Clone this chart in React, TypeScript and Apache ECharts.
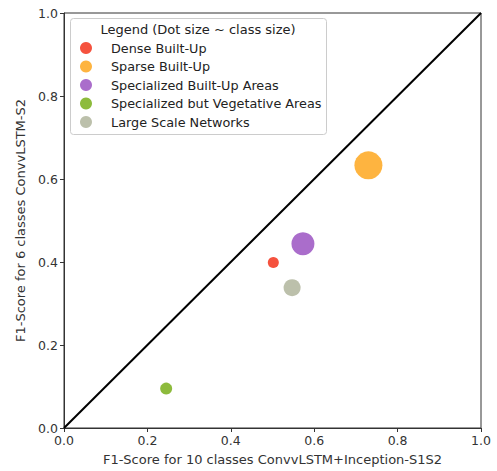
import React, { useEffect, useRef } from "react";
import * as echarts from "echarts";

const categories = [
  "Dense Built-Up",
  "Sparse Built-Up",
  "Specialized Built-Up Areas",
  "Specialized but Vegetative Areas",
  "Large Scale Networks",
];
const xValues = [0.502, 0.73, 0.573, 0.245, 0.547];
const yValues = [0.399, 0.633, 0.444, 0.095, 0.338];
const dotSizes = [11, 28, 23, 12, 17];
const colors = ["#F5523E", "#FEB440", "#AA6DCB", "#8DBB3C", "#BCC0AB"];
const diagonal = [
  [0, 0],
  [1, 1],
];

const FONT = "DejaVu Sans";

export default function App() {
  const ref = useRef<HTMLDivElement>(null);
  useEffect(() => {
    if (!ref.current) return;
    const chart = echarts.init(ref.current, undefined, { renderer: "svg" });
    const axisCommon = {
      type: "value" as const,
      min: 0,
      max: 1,
      interval: 0.2,
      splitLine: { show: false },
      axisLine: { show: true, lineStyle: { color: "#333", width: 1 } },
      axisTick: { show: true, length: 4, inside: false, lineStyle: { color: "#333" } },
      axisLabel: {
        color: "#333",
        fontFamily: FONT,
        fontSize: 12.5,
        margin: 6,
        formatter: (v: number) => v.toFixed(1),
      },
      nameLocation: "middle" as const,
      nameTextStyle: { color: "#333", fontFamily: FONT, fontSize: 13 },
    };
    chart.setOption({
      animation: false,
      backgroundColor: "#fff",
      grid: {
        left: 64,
        top: 13,
        width: 417,
        height: 416,
        show: true,
        borderColor: "#333",
        borderWidth: 1,
        backgroundColor: "transparent",
      },
      xAxis: {
        ...axisCommon,
        name: "F1-Score for 10 classes ConvvLSTM+Inception-S1S2",
        nameGap: 25,
      },
      yAxis: {
        ...axisCommon,
        name: "F1-Score for 6 classes ConvvLSTM-S2",
        nameGap: 33,
      },
      legend: {
        data: categories,
        orient: "vertical",
        left: 75,
        top: 35.5,
        icon: "circle",
        itemWidth: 12,
        itemHeight: 12,
        itemGap: 3.5,
        textStyle: {
          color: "#222",
          fontFamily: FONT,
          fontSize: 12.8,
          lineHeight: 15,
          padding: [0, 0, 0, 14],
        },
        selectedMode: false,
      },
      graphic: [
        {
          type: "rect",
          shape: { x: 70.5, y: 18.5, width: 256, height: 116, r: 3 },
          style: { fill: "rgba(255,255,255,0.85)", stroke: "#ccc", lineWidth: 1 },
          z: 0,
        },
        {
          type: "text",
          x: 198,
          y: 29,
          style: {
            text: "Legend (Dot size ~ class size)",
            fontFamily: FONT,
            fontSize: 13,
            fill: "#222",
            align: "center",
            verticalAlign: "middle",
          },
          z: 1,
        },
      ],
      series: [
        {
          type: "line",
          data: diagonal,
          symbol: "none",
          lineStyle: { color: "#000", width: 2 },
          silent: true,
          z: 1,
        },
        ...categories.map((c, i) => ({
          name: c,
          type: "scatter",
          data: [[xValues[i], yValues[i]]],
          symbolSize: dotSizes[i],
          itemStyle: { color: colors[i], opacity: 1 },
          z: 2,
        })),
      ],
    });
    return () => chart.dispose();
  }, []);
  return (
    <div
      ref={ref}
      style={{ position: "absolute", left: 0, top: 0, width: 497, height: 471 }}
    />
  );
}
